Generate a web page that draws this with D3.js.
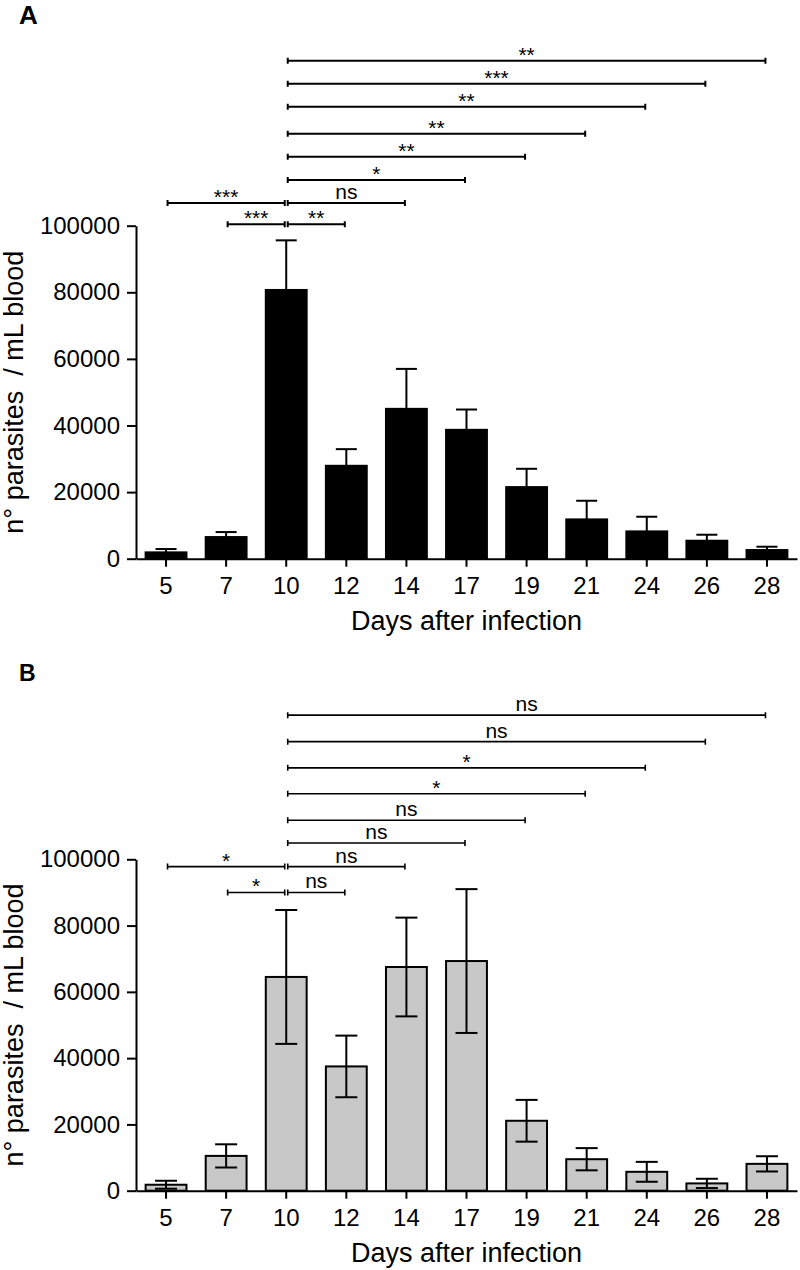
<!DOCTYPE html>
<html>
<head>
<meta charset="utf-8">
<script src="https://cdn.jsdelivr.net/npm/d3@7"></script>
<style>
  html, body { margin: 0; padding: 0; background: #fff; }
  svg { display: block; }
  text { font-family: "Liberation Sans", Arial, Helvetica, sans-serif; fill: #000; }
</style>
</head>
<body>
<script>
// ---------- data ----------
const days = ["5", "7", "10", "12", "14", "17", "19", "21", "24", "26", "28"];
const yTicks = [0, 20000, 40000, 60000, 80000, 100000];

// Panel A: mean and upper SD
const meanA = [1900, 6500, 80700, 27900, 45000, 38700, 21500, 11800, 8200, 5400, 2600];
const errA  = [1000, 1500, 14900, 5000, 12000, 6100, 5500, 5600, 4400, 1800, 1000];

// Panel B: mean and SD (two-sided)
const meanB = [1800, 10500, 64500, 37500, 67500, 69300, 21100, 9500, 5700, 2200, 8100];
const errB  = [1200, 3500, 20200, 9300, 14900, 21700, 6300, 3350, 3000, 1400, 2300];

// comparison brackets (pairs of days), significance labels and bracket heights (y units)
const pairs = [["7","10"],["10","12"],["5","10"],["10","14"],["10","17"],["10","19"],["10","21"],["10","24"],["10","26"],["10","28"]];
const sigA   = ["***","**","***","ns","*","**","**","**","***","**"];
const levelA = [100400, 100400, 106800, 106800, 113700, 120700, 127600, 135700, 142600, 149500];
const sigB   = ["*","ns","*","ns","ns","ns","*","*","ns","ns"];
const levelB = [90000, 90000, 97800, 97800, 104900, 111800, 119800, 127600, 135500, 143500];

const xTitle = "Days after infection";
const yTitle = "n° parasites  / mL blood";

// ---------- drawing ----------
const W = 800, H = 1270;
const svg = d3.select("body").append("svg").attr("width", W).attr("height", H);

const x = d3.scaleBand().domain(days).range([136, 797]).paddingInner(0.32).paddingOuter(0.16);
const bw = x.bandwidth();
const cx = d => x(d) + bw / 2;

function panel(o) {
  const g = svg.append("g");
  const y = d3.scaleLinear().domain([0, 100000]).range([o.y0, o.y1]);

  // panel letter
  g.append("text").attr("x", 19).attr("y", o.letterY)
    .style("font-size", o.letterSize + "px").style("font-weight", "bold").text(o.letter);

  // bars
  g.selectAll("rect.bar").data(days).enter().append("rect")
    .attr("x", d => x(d)).attr("width", bw)
    .attr("y", (d, i) => y(o.mean[i]))
    .attr("height", (d, i) => y(0) - y(o.mean[i]))
    .attr("fill", o.fill).attr("stroke", "#000").attr("stroke-width", o.barStroke);

  // error bars
  const eb = g.selectAll("g.err").data(days).enter().append("g")
    .attr("stroke", "#000").attr("stroke-width", 2).attr("fill", "none");
  eb.append("line")
    .attr("x1", d => cx(d)).attr("x2", d => cx(d))
    .attr("y1", (d, i) => y(o.twoSided ? o.mean[i] - o.err[i] : o.mean[i]))
    .attr("y2", (d, i) => y(o.mean[i] + o.err[i]));
  eb.append("line")
    .attr("x1", d => cx(d) - o.cap / 2).attr("x2", d => cx(d) + o.cap / 2)
    .attr("y1", (d, i) => y(o.mean[i] + o.err[i])).attr("y2", (d, i) => y(o.mean[i] + o.err[i]));
  if (o.twoSided) {
    eb.append("line")
      .attr("x1", d => cx(d) - o.cap / 2).attr("x2", d => cx(d) + o.cap / 2)
      .attr("y1", (d, i) => y(o.mean[i] - o.err[i])).attr("y2", (d, i) => y(o.mean[i] - o.err[i]));
  }

  // axes
  const ya = g.append("g").attr("transform", "translate(136,0)")
    .call(d3.axisLeft(y).tickValues(yTicks).tickFormat(d3.format("d"))
      .tickSize(9).tickPadding(7).tickSizeOuter(0));
  const xa = g.append("g").attr("transform", `translate(0,${o.y0})`)
    .call(d3.axisBottom(x).tickSize(8).tickPadding(10).tickSizeOuter(0));
  [ya, xa].forEach(a => {
    a.selectAll("path, line").attr("stroke", "#000").attr("stroke-width", 2);
    a.selectAll("text").style("font-size", "24px").attr("fill", "#000")
      .style("font-family", '"Liberation Sans", Arial, sans-serif');
  });

  // axis titles
  g.append("text").attr("x", (136 + 797) / 2).attr("y", o.y0 + 71)
    .attr("text-anchor", "middle").style("font-size", "27px").text(xTitle);
  g.append("text").attr("transform", `translate(23,${(o.y0 + o.y1) / 2}) rotate(-90)`)
    .attr("text-anchor", "middle").style("font-size", "27px").style("white-space", "pre").text(yTitle);

  // significance brackets
  const br = g.selectAll("g.br").data(pairs).enter().append("g");
  br.each(function (p, i) {
    const s = d3.select(this);
    const x1 = cx(p[0]) + 1.5, x2 = cx(p[1]) - 1.5, yy = y(o.levels[i]);
    s.append("path")
      .attr("d", `M${x1},${yy}H${x2}M${x1},${yy - 3}V${yy + 3}M${x2},${yy - 3}V${yy + 3}`)
      .attr("stroke", "#000").attr("stroke-width", o.brStroke).attr("fill", "none");
    const lab = o.sig[i];
    s.append("text").attr("x", (x1 + x2) / 2)
      .attr("y", yy + (lab === "ns" ? -4 : 1))
      .attr("text-anchor", "middle").style("font-size", "21px").text(lab);
  });
}

panel({ letter: "A", letterY: 24, letterSize: 26, y0: 558.7, y1: 225.7,
  mean: meanA, err: errA, twoSided: false, fill: "#000", barStroke: 2, cap: 21,
  sig: sigA, levels: levelA, brStroke: 2 });

panel({ letter: "B", letterY: 681, letterSize: 23, y0: 1190.7, y1: 859.3,
  mean: meanB, err: errB, twoSided: true, fill: "#c8c8c8", barStroke: 2, cap: 22,
  sig: sigB, levels: levelB, brStroke: 1.6 });
</script>
</body>
</html>
